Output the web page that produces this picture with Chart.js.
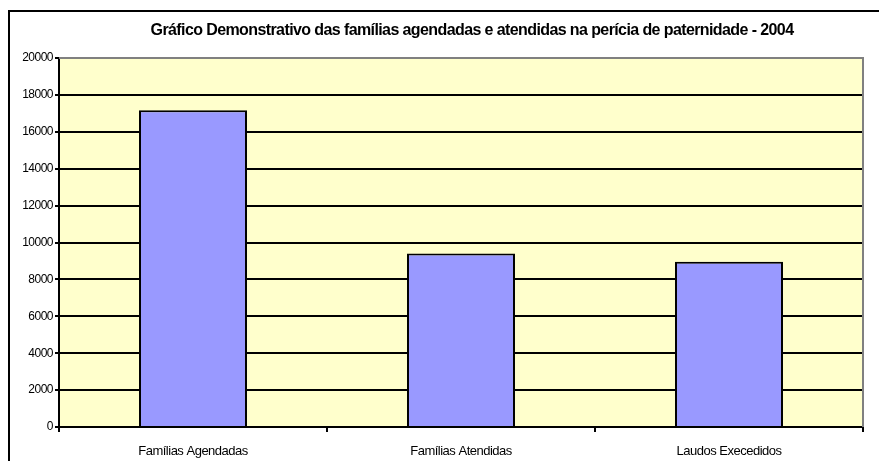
<!DOCTYPE html>
<html>
<head>
<meta charset="utf-8">
<script src="https://cdn.jsdelivr.net/npm/chart.js@4/dist/chart.umd.min.js"></script>
<style>
  html, body { margin: 0; padding: 0; background: #fff; }
  #wrap { width: 879px; height: 461px; position: relative; }
</style>
</head>
<body>
<div id="wrap"><canvas id="chart" width="879" height="461"></canvas></div>
<script>
const titleText = 'Gráfico Demonstrativo das famílias agendadas e atendidas na perícia de paternidade - 2004';
const categories = ['Famílias Agendadas', 'Famílias Atendidas', 'Laudos Execedidos'];
const values = [17170, 9400, 8960];
const yMax = 20000;
const yStep = 2000;

const frameAndBackground = {
  id: 'frameAndBackground',
  beforeDraw(chart) {
    const { ctx, chartArea } = chart;
    ctx.save();
    ctx.fillStyle = '#fff';
    ctx.fillRect(0, 0, chart.width, chart.height);
    // outer chart frame, runs past the right and bottom edges
    ctx.strokeStyle = '#000';
    ctx.lineWidth = 2;
    ctx.strokeRect(9, 11, chart.width + 40, chart.height + 40);
    ctx.fillStyle = '#FFFFCC';
    ctx.fillRect(chartArea.left, chartArea.top, chartArea.right - chartArea.left, chartArea.bottom - chartArea.top);
    // title
    ctx.fillStyle = '#000';
    ctx.font = 'bold 16px "Liberation Sans", Arial, sans-serif';
    ctx.letterSpacing = '-0.6px';
    ctx.textAlign = 'center';
    ctx.textBaseline = 'middle';
    ctx.fillText(titleText, 472, 31);
    ctx.restore();
    // tight spacing for the axis labels too
    ctx.letterSpacing = '-0.5px';
  },
  afterDraw(chart) {
    const { ctx, chartArea } = chart;
    ctx.save();
    ctx.strokeStyle = '#808080';
    ctx.lineWidth = 2;
    ctx.beginPath();
    ctx.moveTo(chartArea.left, chartArea.top);
    ctx.lineTo(chartArea.right, chartArea.top);
    ctx.lineTo(chartArea.right, chartArea.bottom);
    ctx.stroke();
    ctx.restore();
  }
};

new Chart(document.getElementById('chart'), {
  type: 'bar',
  data: {
    labels: categories,
    datasets: [{
      data: values,
      backgroundColor: '#9999FF',
      borderColor: '#000',
      borderWidth: 2,
      borderSkipped: 'bottom',
      categoryPercentage: 1,
      barPercentage: 0.403
    }]
  },
  options: {
    responsive: false,
    animation: false,
    layout: { padding: { top: 58, right: 16, left: 0, bottom: 0 } },
    plugins: {
      legend: { display: false },
      title: { display: false },
      tooltip: { enabled: false }
    },
    scales: {
      x: {
        afterFit(scale) { scale.height = 34; },
        grid: {
          display: true,
          drawOnChartArea: false,
          drawTicks: true,
          tickLength: 5,
          color: '#000',
          lineWidth: 2,
          offset: true
        },
        border: { color: '#000', width: 2 },
        ticks: {
          color: '#000',
          padding: 12,
          maxRotation: 0,
          font: { family: '"Liberation Sans", Arial, sans-serif', size: 13 }
        }
      },
      y: {
        min: 0,
        max: yMax,
        afterFit(scale) { scale.width = 59; },
        grid: {
          color: '#000',
          lineWidth: 2,
          tickLength: 4,
          drawTicks: true
        },
        border: { color: '#000', width: 2 },
        ticks: {
          stepSize: yStep,
          color: '#000',
          padding: 2,
          callback: (v) => String(v),
          font: { family: '"Liberation Sans", Arial, sans-serif', size: 12 }
        }
      }
    }
  },
  plugins: [frameAndBackground]
});
</script>
</body>
</html>
